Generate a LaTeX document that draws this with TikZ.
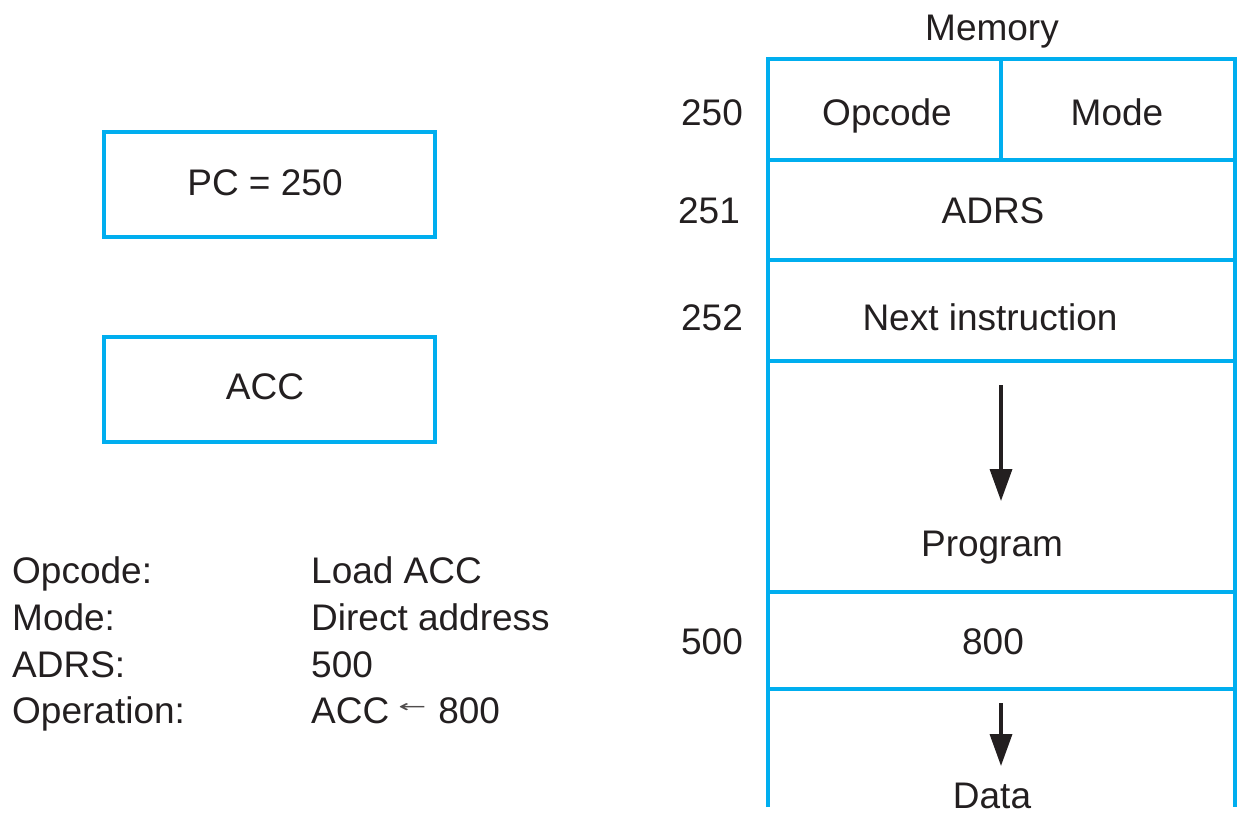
\documentclass[tikz,border=0pt]{standalone}
\usepackage{fontspec}
\usepackage{graphicx}
\setmainfont{Liberation Sans}
\newfontfamily\arrowfont{DejaVu Sans}
\usetikzlibrary{arrows.meta}
\definecolor{memblue}{RGB}{0,174,239}
\definecolor{inkblack}{RGB}{35,31,32}
\begin{document}
\begin{tikzpicture}[x=1pt,y=-1pt,
  lbl/.style={inner sep=0pt,text height=26pt,text depth=0pt,font=\fontsize{37}{40}\selectfont,text=inkblack},
  listlbl/.style={inner sep=0pt,anchor=base west,font=\fontsize{37}{40}\selectfont,text=inkblack},
  regbox/.style={draw=memblue,line width=4pt,minimum width=331pt,minimum height=105pt,inner sep=0pt},
  memline/.style={draw=memblue,line width=4pt},
  flowarrow/.style={draw=inkblack,line width=3.5pt,-{Triangle[width=22pt,length=32pt]}}]
\useasboundingbox (0,0) rectangle (1240,822);
% registers
\node[regbox] (pc) at (269.5,184.5) {};
\node[lbl] (pctext) at (265,182) {PC = 250};
\node[regbox] (acc) at (269.5,389) {};
\node[lbl] (acctext) at (265,386) {ACC};
% instruction description
\node[listlbl] (l1) at (12,583) {Opcode:};
\node[listlbl] (l2) at (12,630) {Mode:};
\node[listlbl] (l3) at (12,677) {ADRS:};
\node[listlbl] (l4) at (12,723) {Operation:};
\node[listlbl] (r1) at (311,583) {Load ACC};
\node[listlbl] (r2) at (311,630) {Direct address};
\node[listlbl] (r3) at (311,677) {500};
\node[listlbl] (r4) at (311,723) {ACC\hspace{9pt}\raisebox{11pt}{\textcolor{inkblack!80}{\resizebox{28pt}{9pt}{\arrowfont ←}}}\hspace{12pt}800};
% memory frame
\coordinate (mtl) at (768,59);
\coordinate (mtr) at (1235,59);
\coordinate (mbl) at (768,807);
\coordinate (mbr) at (1235,807);
\draw[memline] (mbl) -- (mtl) -- (mtr) -- (mbr);
\draw[memline] (1001,59) -- (1001,160);
\foreach \yy in {160,260,361,592,689}{
  \draw[memline] (768,\yy) -- (1235,\yy);
}
\node[lbl] (memtitle) at (992,27) {Memory};
\node[lbl] (opc) at (887,112) {Opcode};
\node[lbl] (mode) at (1117,112) {Mode};
\node[lbl] (adrs) at (993,210) {ADRS};
\node[lbl] (next) at (990,317) {Next instruction};
\node[lbl] (prog) at (992,543) {Program};
\node[lbl] (val) at (993,641) {800};
\node[lbl] (data) at (992,795) {Data};
\node[lbl] (a250) at (712,112) {250};
\node[lbl] (a251) at (709,210) {251};
\node[lbl] (a252) at (712,317) {252};
\node[lbl] (a500) at (712,641) {500};
% arrows
\coordinate (p1s) at (1001,385);
\coordinate (p1e) at (1001,501);
\coordinate (p2s) at (1001,703);
\coordinate (p2e) at (1001,766);
\draw[flowarrow] (p1s) -- (p1e);
\draw[flowarrow] (p2s) -- (p2e);
\end{tikzpicture}
\end{document}
